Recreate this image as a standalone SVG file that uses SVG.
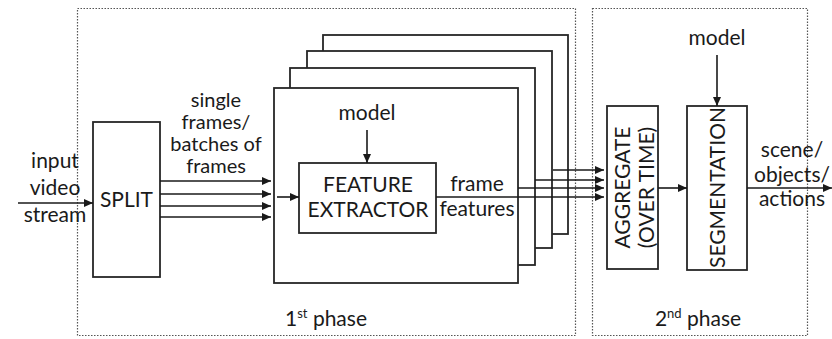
<svg xmlns="http://www.w3.org/2000/svg" width="832" height="339" viewBox="0 0 832 339">
<defs>
<marker id="ah" markerWidth="9" markerHeight="8" refX="9" refY="4" orient="auto" markerUnits="userSpaceOnUse">
<path d="M0,0 L9,4 L0,8 Z" fill="#1a1a1a"/>
</marker>
</defs>
<style>
text{font-family:Lato,"Liberation Sans",sans-serif;font-size:21px;fill:#1a1a1a;text-anchor:middle}
.tight{font-size:20px}
.box{fill:#fff;stroke:#262626;stroke-width:1.8}
.phase{fill:none;stroke:#555;stroke-width:1.2;stroke-dasharray:1.5 1.5}
.ln{stroke:#1a1a1a;stroke-width:1.6;fill:none}
.arr{marker-end:url(#ah)}
.sup{font-size:13px}
</style>
<rect fill="#fff" width="832" height="339"/>

<g id="phase1">
<rect class="phase" x="77.5" y="8.5" width="498" height="327"/>
<text x="326" y="326">1<tspan class="sup" dy="-8">st</tspan><tspan dy="8"> phase</tspan></text>
</g>
<g id="phase2">
<rect class="phase" x="592.5" y="8.5" width="215" height="327"/>
<text x="698" y="326">2<tspan class="sup" dy="-8">nd</tspan><tspan dy="8"> phase</tspan></text>
</g>

<g id="input-label">
<text x="55" y="168">input</text>
<text x="55" y="195">video</text>
<text x="55" y="222">stream</text>
</g>

<g id="split">
<rect class="box" x="93" y="122" width="67" height="155"/>
<text x="126.5" y="207">SPLIT</text>
</g>

<g id="frames-label">
<text class="tight" x="216" y="107">single</text>
<text class="tight" x="216" y="129">frames/</text>
<text class="tight" x="216" y="151">batches of</text>
<text class="tight" x="216" y="173">frames</text>
</g>

<g id="stack4"><rect class="box" x="323" y="35" width="245" height="199"/></g>
<g id="stack3"><rect class="box" x="307" y="51" width="245" height="197"/></g>
<g id="stack2"><rect class="box" x="290" y="68" width="245" height="197"/></g>
<g id="stack1"><rect class="box" x="274" y="88" width="244" height="195"/></g>

<g id="model1">
<text x="367" y="120">model</text>
</g>

<g id="feature-extractor">
<rect class="box" x="299" y="163" width="137" height="70"/>
<text x="368" y="192">FEATURE</text>
<text x="368" y="217">EXTRACTOR</text>
</g>

<g id="frame-features-label">
<text x="477" y="191">frame</text>
<text x="477" y="216">features</text>
</g>

<g id="aggregate">
<rect class="box" x="607" y="106" width="51" height="163"/>
<text transform="translate(630,187.5) rotate(-90)">AGGREGATE</text>
<text transform="translate(654,187.5) rotate(-90)">(OVER TIME)</text>
</g>

<g id="model2">
<text x="717" y="45">model</text>
</g>

<g id="segmentation">
<rect class="box" x="687" y="106" width="60" height="164"/>
<text transform="translate(725,187.5) rotate(-90)">SEGMENTATION</text>
</g>

<g id="output-label">
<text x="792" y="157">scene/</text>
<text x="792" y="182">objects/</text>
<text x="792" y="206">actions</text>
</g>

<g id="connectors">
<line class="ln arr" x1="18" y1="203" x2="93" y2="203"/>
<line class="ln arr" x1="160" y1="181" x2="271" y2="181"/>
<line class="ln arr" x1="160" y1="194" x2="271" y2="194"/>
<line class="ln arr" x1="160" y1="206" x2="271" y2="206"/>
<line class="ln arr" x1="160" y1="217" x2="271" y2="217"/>
<line class="ln arr" x1="277" y1="197" x2="299" y2="197"/>
<line class="ln arr" x1="367" y1="130" x2="367" y2="163"/>
<line class="ln arr" x1="553" y1="170" x2="604" y2="170"/>
<line class="ln arr" x1="535" y1="180" x2="604" y2="180"/>
<line class="ln arr" x1="518" y1="188" x2="604" y2="188"/>
<line class="ln arr" x1="436" y1="197" x2="604" y2="197"/>
<line class="ln arr" x1="658" y1="188" x2="687" y2="188"/>
<line class="ln arr" x1="717" y1="55" x2="717" y2="106"/>
<line class="ln arr" x1="747" y1="188" x2="832" y2="188"/>
</g>
</svg>
